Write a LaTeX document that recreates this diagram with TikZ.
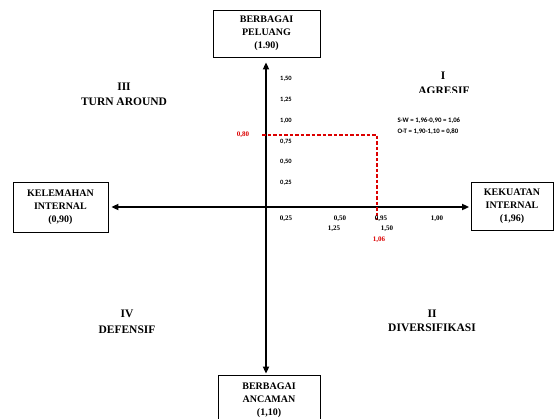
\documentclass[tikz,border=0pt]{standalone}
\usepackage{fontspec}
\setmainfont{Liberation Serif}
\newfontfamily\calfont{Carlito}
\usetikzlibrary{arrows.meta}
\definecolor{redline}{RGB}{220,0,0}
\begin{document}
\begin{tikzpicture}[x=1pt,y=-1pt,
  box/.style={draw=black,line width=0.8pt,align=center,inner sep=0pt,
    font=\bfseries\fontsize{10}{13}\selectfont},
  quad/.style={align=center,font=\bfseries\fontsize{11.5}{15}\selectfont},
  axis/.style={line width=1.8pt,{Triangle[length=7pt,width=6pt]}-{Triangle[length=7pt,width=6pt]}},
  ylab/.style={font=\calfont\bfseries\fontsize{6.5}{7}\selectfont},
  xlab/.style={font=\bfseries\fontsize{7}{8}\selectfont},
  rlab/.style={font=\bfseries\fontsize{7}{8}\selectfont,text=redline},
  formula/.style={font=\calfont\bfseries\fontsize{6.8}{8}\selectfont,anchor=west},
  guide/.style={draw=redline,line width=1.05pt,dash pattern=on 3.5pt off 2pt}]
\useasboundingbox (0,0) rectangle (554,418);
\fill[white] (0,0) rectangle (554,418);

% boxes
\node[box,minimum width=107pt,minimum height=47pt] (top) at (266.5,33.5) {BERBAGAI\\PELUANG\\(1.90)};
\node[box,minimum width=102pt,minimum height=50pt] (bot) at (269,400) {BERBAGAI\\ANCAMAN\\(1,10)};
\node[box,minimum width=95pt,minimum height=50pt] (left) at (60.5,207) {KELEMAHAN\\INTERNAL\\(0,90)};
\node[box,minimum width=82pt,minimum height=48pt] (right) at (512,206) {KEKUATAN\\INTERNAL\\(1,96)};

% origin and axes
\coordinate (O) at (266,207);
\draw[axis] ([yshift=-5pt]top.south -| O) -- ([yshift=1pt]bot.north -| O);
\draw[axis] ([xshift=3pt]left.east |- O) -- ([xshift=-1.5pt]right.west |- O);

% red guide
\coordinate (g1) at (262,135);
\coordinate (g2) at (377,135);
\coordinate (g3) at (377,220);
\draw[guide] (g1) -- (g2) -- (g3);
\node[rlab] (r080) at (243,135) {0,80};
\node[rlab] (r106) at (379,240) {1,06};

% y labels
\node[ylab] (y150) at (286,79) {1,50};
\node[ylab] (y125) at (286,100) {1,25};
\node[ylab] (y100) at (286,121) {1,00};
\node[ylab] (y075) at (286,142) {0,75};
\node[ylab] (y050) at (286,162) {0,50};
\node[ylab] (y025) at (286,183) {0,25};

% x labels
\node[xlab] (x025) at (286,219) {0,25};
\node[xlab] (x050) at (340,219) {0,50};
\node[xlab] (x125) at (334,229) {1,25};
\node[xlab] (x095) at (381,219) {0,95};
\node[xlab] (x150) at (387,229) {1,50};
\node[xlab] (x100) at (437,219) {1,00};

% quadrant labels
\node[quad] (q3a) at (124,87) {III};
\node[quad] (q3b) at (124,102) {TURN AROUND};
\node[quad] (q1a) at (443,76) {I};
\begin{scope}
\clip (400,82) rectangle (490,92);
\node[quad] (q1b) at (444,91) {AGRESIF};
\end{scope}
\node[quad] (q4a) at (127,314) {IV};
\node[quad] (q4b) at (127,330) {DEFENSIF};
\node[quad] (q2a) at (432,314) {II};
\node[quad] (q2b) at (432,328) {DIVERSIFIKASI};

% formulas
\node[formula] (sw) at (394,121) {S-W = 1,96-0,90 = 1,06};
\node[formula] (ot) at (394,132) {O-T = 1,90-1,10 = 0,80};
\end{tikzpicture}
\end{document}
